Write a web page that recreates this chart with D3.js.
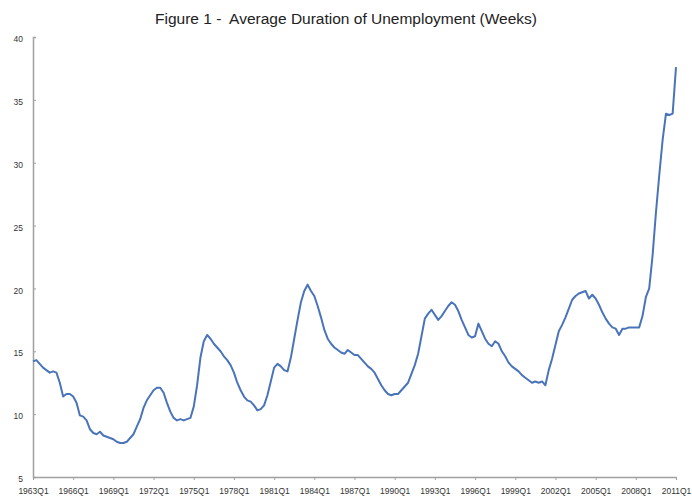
<!DOCTYPE html>
<html>
<head>
<meta charset="utf-8">
<script src="https://cdn.jsdelivr.net/npm/d3@7"></script>
<style>
  html, body { margin: 0; padding: 0; background: #fff; }
  svg { display: block; }
  text { font-family: "Liberation Sans", Arial, sans-serif; }
</style>
</head>
<body>
<svg id="chart" width="692" height="502"></svg>
<script>
// ---- data ----
const title = "Figure 1 -  Average Duration of Unemployment (Weeks)";
const firstYear = 1963;
// quarterly average duration (weeks), 1963Q1 .. 2011Q1
const durationWeeks = [
  14.2, 14.3, 14.0, 13.7,  13.5, 13.3, 13.4, 13.3,  12.5, 11.4, 11.6, 11.6,
  11.4, 10.9,  9.9,  9.8,   9.5,  8.8,  8.5,  8.4,   8.6,  8.3,  8.2,  8.1,
   8.0,  7.8,  7.7,  7.7,   7.8,  8.1,  8.4,  9.0,   9.6, 10.5, 11.1, 11.5,
  11.9, 12.1, 12.1, 11.7,  10.9, 10.2,  9.7,  9.5,   9.6,  9.5,  9.6,  9.7,
  10.6, 12.3, 14.5, 15.8,  16.3, 16.0, 15.6, 15.3,  15.0, 14.6, 14.3, 13.9,
  13.3, 12.5, 11.9, 11.4,  11.1, 11.0, 10.7, 10.3,  10.4, 10.7, 11.5, 12.6,
  13.7, 14.0, 13.8, 13.5,  13.4, 14.5, 16.0, 17.5,  18.9, 19.8, 20.3, 19.8,
  19.4, 18.6, 17.7, 16.7,  16.0, 15.6, 15.3, 15.1,  14.9, 14.8, 15.1, 14.9,
  14.7, 14.7, 14.4, 14.1,  13.8, 13.6, 13.3, 12.8,  12.3, 11.9, 11.6, 11.5,
  11.6, 11.6, 11.9, 12.2,  12.5, 13.2, 13.9, 14.8,  16.2, 17.6, 18.0, 18.3,
  17.9, 17.5, 17.8, 18.2,  18.6, 18.9, 18.7, 18.2,  17.5, 16.9, 16.3, 16.1,
  16.2, 17.2, 16.6, 16.0,  15.6, 15.4, 15.8, 15.6,  15.0, 14.6, 14.1, 13.8,
  13.6, 13.4, 13.1, 12.9,  12.7, 12.5, 12.6, 12.5,  12.6, 12.3, 13.5, 14.4,
  15.5, 16.6, 17.1, 17.7,  18.4, 19.1, 19.4, 19.6,  19.7, 19.8, 19.2, 19.5,
  19.2, 18.7, 18.1, 17.6,  17.2, 16.9, 16.8, 16.3,  16.8, 16.8, 16.9, 16.9,
  16.9, 16.9, 17.8, 19.3,  20.0, 22.6, 26.0, 29.0,  31.8, 33.9, 33.8, 33.9,
  37.6
];
const quarters = durationWeeks.map((_, i) => (firstYear + Math.floor(i / 4)) + "Q" + (i % 4 + 1));
const xTickLabels = ["1963Q1","1966Q1","1969Q1","1972Q1","1975Q1","1978Q1","1981Q1","1984Q1",
  "1987Q1","1990Q1","1993Q1","1996Q1","1999Q1","2002Q1","2005Q1","2008Q1","2011Q1"];
const yTicks = [5, 10, 15, 20, 25, 30, 35, 40];

// ---- layout ----
const svg = d3.select("#chart");
const plotLeft = 33, plotRight = 676, plotTop = 37, plotBottom = 477;

const x = d3.scalePoint().domain(quarters).range([plotLeft, plotRight]);
const y = d3.scaleLinear().domain([5, 40]).range([plotBottom, plotTop]);

svg.append("text")
  .attr("x", 346).attr("y", 24)
  .attr("text-anchor", "middle")
  .attr("font-size", 15.5)
  .attr("fill", "#222")
  .style("white-space", "pre")
  .attr("xml:space", "preserve")
  .text(title);

const axisColor = "#a0a0a0";

// y axis
const yAxis = svg.append("g")
  .attr("transform", `translate(${plotLeft},0)`)
  .call(d3.axisLeft(y).tickValues(yTicks).tickSize(-3).tickPadding(10).tickFormat(d3.format("d")));
yAxis.select(".domain").attr("stroke", axisColor).attr("stroke-width", 1.5);
yAxis.selectAll(".tick line").attr("stroke", axisColor);
yAxis.selectAll(".tick text").attr("font-size", 8.5).attr("fill", "#333").attr("dy", "0.55em")
  .attr("font-family", "'Liberation Sans', Arial, sans-serif");

// x axis
const xAxis = svg.append("g")
  .attr("transform", `translate(0,${plotBottom})`)
  .call(d3.axisBottom(x).tickValues(xTickLabels).tickSize(3).tickSizeOuter(0).tickPadding(8));
xAxis.select(".domain").attr("stroke", axisColor).attr("stroke-width", 1.5);
xAxis.selectAll(".tick line").attr("stroke", axisColor);
xAxis.selectAll(".tick text").attr("font-size", 8.5).attr("fill", "#333")
  .attr("font-family", "'Liberation Sans', Arial, sans-serif");

// line
const line = d3.line()
  .x((d, i) => x(quarters[i]))
  .y(d => y(d));

svg.append("path")
  .datum(durationWeeks)
  .attr("fill", "none")
  .attr("stroke", "#4a74b9")
  .attr("stroke-width", 2)
  .attr("stroke-linejoin", "round")
  .attr("d", line);
</script>
</body>
</html>
